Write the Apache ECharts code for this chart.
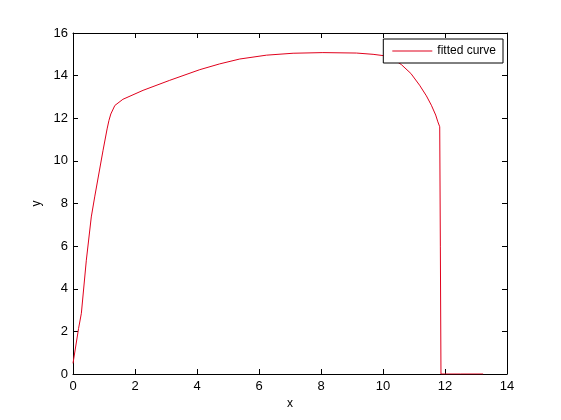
<!DOCTYPE html>
<html>
<head>
<meta charset="utf-8">
<script src="https://cdn.jsdelivr.net/npm/echarts@6/dist/echarts.min.js"></script>
<style>html,body{margin:0;padding:0;background:#fff}#c{width:561px;height:420px}</style>
</head>
<body>
<div id="c"></div>
<script>
var xValues = [0, 0.18, 0.27, 0.43, 0.59, 0.70, 0.97, 1.10, 1.16, 1.22, 1.35, 1.61, 2.26, 3.12, 4.09, 4.73, 5.38, 6.24, 7.10, 8.06, 9.14, 9.68, 10.00, 10.30, 10.59, 10.90, 11.18, 11.40, 11.56, 11.70, 11.77, 11.83, 11.85, 11.87, 12.50, 13.23];
var yValues = [0.5, 2.14, 2.85, 5.34, 7.37, 8.31, 10.5, 11.5, 11.9, 12.2, 12.6, 12.89, 13.31, 13.78, 14.28, 14.55, 14.78, 14.96, 15.05, 15.08, 15.06, 15.0, 14.94, 14.8, 14.52, 14.1, 13.55, 13.05, 12.61, 12.15, 11.83, 11.6, 6.0, 0, 0, 0];
var seriesName = 'fitted curve';
var xTicks = [0, 2, 4, 6, 8, 10, 12, 14];
var yTicks = [0, 2, 4, 6, 8, 10, 12, 14, 16];

var data = xValues.map(function (x, i) { return [x, yValues[i]]; });
var font = 'Liberation Sans, Arial, sans-serif';
var axisCommon = {
  axisLine: { show: true, onZero: false, lineStyle: { color: '#000', width: 1 } },
  axisTick: { show: true, inside: true, length: 5, lineStyle: { color: '#000' } },
  splitLine: { show: false }
};
var chart = echarts.init(document.getElementById('c'), null, { renderer: 'canvas' });
chart.setOption({
  backgroundColor: '#fff',
  animation: false,
  grid: { left: 73, top: 33, right: 54, bottom: 46, containLabel: false },
  legend: {
    data: [{ name: seriesName, icon: 'rect' }],
    right: 58, top: 39,
    orient: 'vertical',
    borderColor: '#000', borderWidth: 1,
    padding: [6, 7, 6, 9],
    itemWidth: 40, itemHeight: 1,
    backgroundColor: '#fff',
    textStyle: { fontFamily: font, fontSize: 12, color: '#000' }
  },
  xAxis: [
    Object.assign({
      type: 'value', min: xTicks[0], max: xTicks[xTicks.length - 1], interval: 2,
      name: 'x', nameLocation: 'middle', nameGap: 24,
      nameTextStyle: { fontFamily: font, fontSize: 12, color: '#000' },
      axisLabel: { fontFamily: font, fontSize: 13, color: '#000', margin: 6 }
    }, axisCommon),
    Object.assign({
      type: 'value', position: 'top', min: xTicks[0], max: xTicks[xTicks.length - 1], interval: 2,
      axisLabel: { show: false }
    }, axisCommon)
  ],
  yAxis: [
    Object.assign({
      type: 'value', min: yTicks[0], max: yTicks[yTicks.length - 1], interval: 2,
      name: 'y', nameLocation: 'middle', nameGap: 26,
      nameTextStyle: { fontFamily: font, fontSize: 12, color: '#000' },
      axisLabel: { fontFamily: font, fontSize: 13, color: '#000', margin: 5 }
    }, axisCommon),
    Object.assign({
      type: 'value', position: 'right', min: yTicks[0], max: yTicks[yTicks.length - 1], interval: 2,
      axisLabel: { show: false }
    }, axisCommon)
  ],
  series: [{
    name: seriesName,
    type: 'line',
    data: data,
    showSymbol: false,
    symbol: 'none',
    lineStyle: { color: '#e0001c', width: 1 },
    itemStyle: { color: '#e0001c' },
    z: 1
  }]
});
</script>
</body>
</html>
